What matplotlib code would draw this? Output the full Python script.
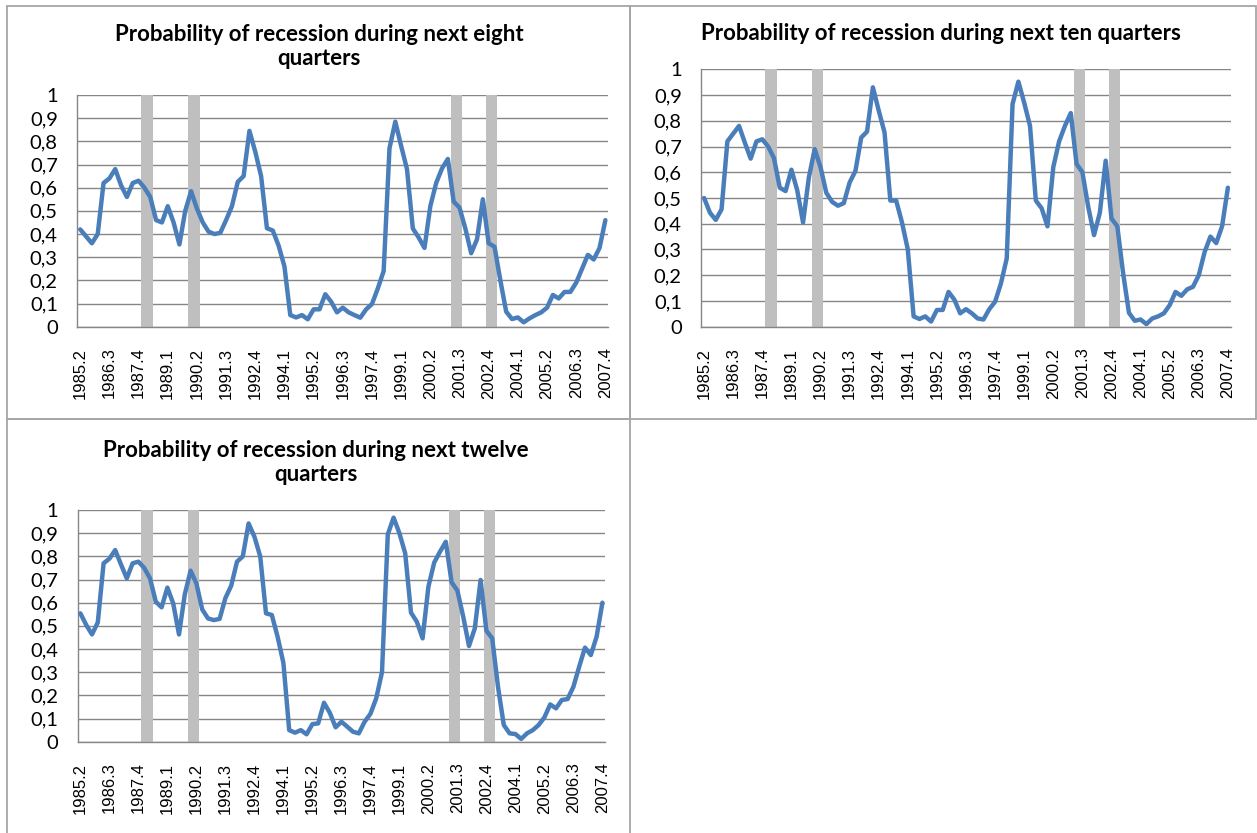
import numpy as np
import matplotlib
matplotlib.use("Agg")
import matplotlib.pyplot as plt
from matplotlib.patches import Rectangle

W, H = 1257, 833

# quarterly categories 1985.2 ... 2007.4
quarters = [f"{y}.{q}" for y in range(1985, 2008) for q in range(1, 5)][1:]
recession_quarters = ["1988.1", "1988.2", "1990.1", "1990.2",
                      "2001.2", "2001.3", "2002.4", "2003.1"]

y_ticks = [0, 0.1, 0.2, 0.3, 0.4, 0.5, 0.6, 0.7, 0.8, 0.9, 1.0]
y_tick_labels = ["0", "0,1", "0,2", "0,3", "0,4", "0,5", "0,6", "0,7", "0,8", "0,9", "1"]

prob_8q = [0.42, 0.39, 0.36, 0.40, 0.62, 0.64, 0.68, 0.61, 0.56, 0.62,
           0.63, 0.60, 0.56, 0.46, 0.45, 0.52, 0.45, 0.355, 0.50, 0.585,
           0.51, 0.45, 0.41, 0.40, 0.405, 0.46, 0.52, 0.625, 0.65, 0.845,
           0.755, 0.65, 0.425, 0.415, 0.35, 0.26, 0.05, 0.04, 0.05, 0.032,
           0.075, 0.075, 0.14, 0.108, 0.062, 0.082, 0.062, 0.05, 0.039, 0.075,
           0.098, 0.165, 0.24, 0.77, 0.885, 0.78, 0.68, 0.424, 0.385, 0.34,
           0.52, 0.62, 0.683, 0.724, 0.54, 0.514, 0.424, 0.317, 0.377, 0.55,
           0.36, 0.345, 0.20, 0.065, 0.033, 0.04, 0.019, 0.036, 0.05, 0.062,
           0.082, 0.137, 0.122, 0.15, 0.15, 0.19, 0.25, 0.31, 0.29, 0.34,
           0.46]

prob_10q = [0.50, 0.443, 0.415, 0.456, 0.72, 0.75, 0.78, 0.715, 0.653, 0.72,
            0.728, 0.70, 0.655, 0.54, 0.527, 0.61, 0.53, 0.405, 0.58, 0.69,
            0.62, 0.52, 0.485, 0.47, 0.48, 0.56, 0.605, 0.735, 0.758, 0.93,
            0.84, 0.755, 0.49, 0.49, 0.405, 0.30, 0.04, 0.03, 0.04, 0.02,
            0.065, 0.065, 0.135, 0.105, 0.052, 0.068, 0.052, 0.032, 0.028, 0.068,
            0.097, 0.168, 0.265, 0.865, 0.952, 0.87, 0.78, 0.49, 0.46, 0.39,
            0.62, 0.72, 0.78, 0.83, 0.632, 0.60, 0.466, 0.356, 0.443, 0.645,
            0.42, 0.39, 0.207, 0.054, 0.023, 0.028, 0.01, 0.032, 0.04, 0.052,
            0.084, 0.135, 0.12, 0.145, 0.155, 0.20, 0.29, 0.35, 0.325, 0.39,
            0.54]

prob_12q = [0.554, 0.504, 0.463, 0.515, 0.77, 0.79, 0.827, 0.765, 0.705, 0.77,
            0.777, 0.75, 0.705, 0.604, 0.58, 0.665, 0.597, 0.463, 0.636, 0.738,
            0.683, 0.571, 0.532, 0.525, 0.53, 0.62, 0.673, 0.777, 0.80, 0.942,
            0.885, 0.80, 0.554, 0.547, 0.453, 0.34, 0.05, 0.039, 0.05, 0.032,
            0.076, 0.079, 0.168, 0.125, 0.062, 0.086, 0.065, 0.043, 0.036, 0.086,
            0.12, 0.187, 0.30, 0.895, 0.967, 0.90, 0.813, 0.557, 0.518, 0.446,
            0.669, 0.773, 0.82, 0.863, 0.688, 0.652, 0.54, 0.413, 0.489, 0.698,
            0.479, 0.446, 0.237, 0.072, 0.036, 0.033, 0.012, 0.036, 0.05, 0.072,
            0.105, 0.161, 0.144, 0.18, 0.184, 0.237, 0.324, 0.406, 0.374, 0.453,
            0.60]

LINE_BLUE = "#4A7EBB"
BAR_GREY = "#BFBFBF"
GRID_GREY = "#868686"
FRAME_GREY = "#A6A6A6"


def px_rect(left, top, right, bottom):
    return [left / W, 1 - bottom / H, (right - left) / W, (bottom - top) / H]


def draw_panel(fig, frame, plot_box, title, title_xy, values):
    x0, y0, x1, y1 = frame
    fig.add_artist(Rectangle((x0 / W, 1 - y1 / H), (x1 - x0) / W, (y1 - y0) / H,
                             transform=fig.transFigure, fill=False,
                             edgecolor=FRAME_GREY, lw=1.3))
    fig.text(title_xy[0] / W, 1 - title_xy[1] / H, title, ha="center", va="center",
             fontfamily="Lato", fontweight="bold", fontsize=16, linespacing=1.12)

    ax = fig.add_axes(px_rect(*plot_box))
    x = np.arange(len(quarters))
    rec = [1 if q in recession_quarters else 0 for q in quarters]
    ax.bar(x, rec, width=1.0, color=BAR_GREY, lw=0, zorder=2)
    ax.plot(x, values, color=LINE_BLUE, lw=3.2, zorder=3,
            solid_joinstyle="round", solid_capstyle="round")

    ax.set_xlim(-0.5, len(quarters) - 0.5)
    ax.set_ylim(0, 1)
    ax.set_yticks(y_ticks)
    ax.set_yticklabels(y_tick_labels, fontfamily="Lato", fontsize=14.5)
    ax.set_xticks(x[::5])
    ax.set_xticklabels(quarters[::5], rotation=90,
                       fontfamily="Liberation Sans", fontsize=12)
    ax.tick_params(axis="both", length=0)
    ax.tick_params(axis="y", pad=14)
    ax.tick_params(axis="x", pad=15)

    ax.grid(axis="y", color=GRID_GREY, lw=1.0)
    ax.set_axisbelow(True)
    for side in ["top", "right"]:
        ax.spines[side].set_visible(False)
    for side in ["left", "bottom"]:
        ax.spines[side].set_color(GRID_GREY)
        ax.spines[side].set_linewidth(1.0)
    return ax


fig = plt.figure(figsize=(W / 100, H / 100), dpi=100)

draw_panel(fig, (7, 6, 630, 419), (77.3, 95, 608.3, 326.7),
           "Probability of recession during next eight\nquarters", (319, 46.5), prob_8q)
draw_panel(fig, (630, 6, 1256, 419), (701.2, 69.3, 1230.8, 326.7),
           "Probability of recession during next ten quarters", (941, 33), prob_10q)
draw_panel(fig, (7, 419, 630, 845), (77.5, 510, 605.3, 741.7),
           "Probability of recession during next twelve\nquarters", (316, 462.5), prob_12q)

fig.savefig("out.png", dpi=100)
